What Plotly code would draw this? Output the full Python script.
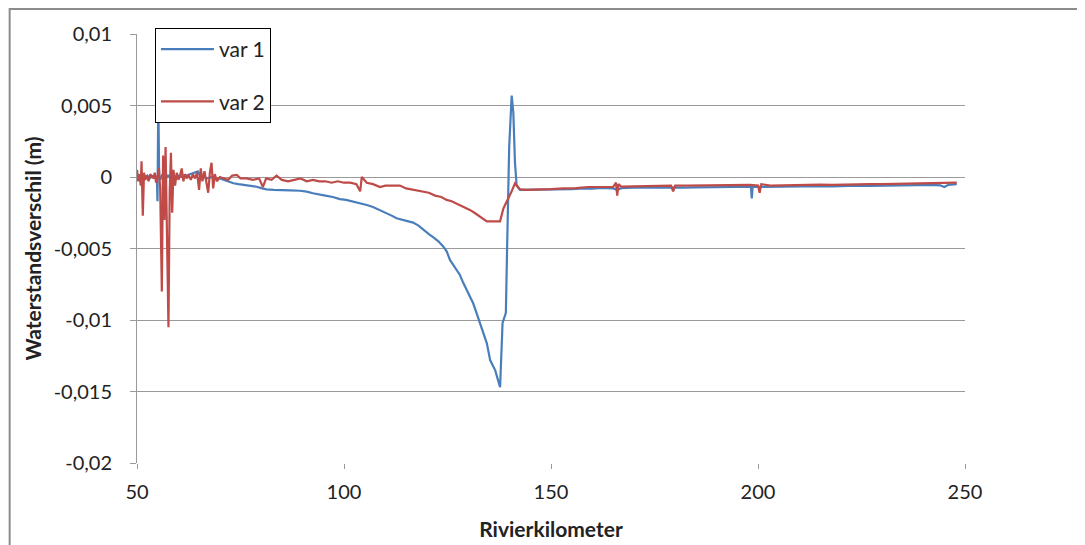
import plotly.graph_objects as go

# ---- data ----
km1 = [50.0, 50.5, 51.0, 51.5, 52.0, 52.5, 53.0, 53.5, 54.0, 54.5, 54.8, 54.95, 55.15, 55.35, 55.6,
       56.0, 56.5, 57.0, 57.5, 58.0, 58.5, 59.0, 60.0, 61.0, 62.0, 63.0, 64.0, 64.7, 65.2, 66.0,
       67.0, 68.0, 69.0, 70.0, 71.0, 72.0, 73.3, 74.5, 76.0, 77.5, 78.9, 80.0, 81.3, 83.0, 85.0,
       87.0, 89.4, 91.0, 92.5, 94.0, 95.5, 97.3, 99.0, 100.5, 102.0, 103.5, 105.5, 107.0, 108.7,
       110.0, 111.5, 112.7, 114.0, 115.5, 116.7, 118.0, 119.2, 120.5, 121.6, 122.8, 124.0, 124.8,
       125.6, 126.8, 128.0, 128.8, 129.6, 130.4, 131.2, 132.0, 132.9, 133.7, 134.5, 135.3, 136.0,
       136.5, 137.1, 137.7, 138.3, 139.1, 139.4, 139.9, 140.5, 140.9, 141.3, 141.7, 142.5, 144.0,
       146.0, 148.0, 150.0, 152.0, 155.0, 158.0, 160.0, 162.0, 165.0, 166.0, 167.0, 170.0, 173.0,
       176.0, 179.0, 182.0, 185.0, 188.0, 191.0, 194.0, 197.0, 198.3, 198.5, 198.7, 200.0, 203.0,
       206.0, 209.0, 212.0, 215.0, 218.0, 221.0, 224.0, 227.0, 230.0, 233.0, 236.0, 239.0, 242.0,
       244.0, 245.0, 246.0, 248.0]
var1 = [0.0, -0.0001, 0.0001, -0.0001, 0.0, 0.0001, -0.0001, 0.0, 0.0001, 0.0, 0.0, -0.0017, 0.0055, 0.0, -0.0002,
        0.0001, 0.0, -0.0001, 0.0001, 0.0, -0.0001, 0.0, 0.0001, 0.0, 0.0001, 0.0002, 0.0003, 0.0004, 0.0001, 0.0,
        -0.0001, 0.0, -0.0001, -0.0001, -0.0002, -0.0003, -0.00044, -0.0005, -0.00055, -0.0006, -0.00068, -0.00078, -0.00086, -0.0009, -0.0009,
        -0.00093, -0.00096, -0.00102, -0.00114, -0.0012, -0.0013, -0.0014, -0.00155, -0.0016, -0.0017, -0.0018, -0.00196, -0.0021, -0.00231,
        -0.0025, -0.0027, -0.00289, -0.003, -0.0031, -0.00319, -0.0034, -0.00371, -0.004, -0.00422, -0.0045, -0.00487, -0.0052,
        -0.0058, -0.0063, -0.00685, -0.0074, -0.0079, -0.0083, -0.00883, -0.0095, -0.01023, -0.0109, -0.01163, -0.0128, -0.0132,
        -0.0135, -0.0141, -0.0147, -0.0102, -0.0095, -0.0049, 0.0021, 0.0057, 0.0045, 0.001, -0.0006, -0.0009, -0.0009,
        -0.00088, -0.0009, -0.0009, -0.0009, -0.00085, -0.0008, -0.00082, -0.00077, -0.0008, -0.0009, -0.00078, -0.00075, -0.00076,
        -0.00074, -0.00072, -0.00075, -0.00072, -0.0007, -0.00072, -0.0007, -0.0007, -0.0007, -0.0015, -0.0007, -0.0007, -0.00068,
        -0.00066, -0.00068, -0.00065, -0.00064, -0.00066, -0.00062, -0.0006, -0.00062, -0.0006, -0.00058, -0.0006, -0.00057, -0.00055,
        -0.00058, -0.0007, -0.00055, -0.0005]

km2 = [50.0, 50.3, 50.6, 50.9, 51.1, 51.4, 51.7, 52.0, 52.4, 52.8, 53.2, 53.6, 54.0, 54.3, 54.6,
       55.0, 55.3, 55.6, 56.0, 56.3, 56.6, 56.9, 57.2, 57.6, 57.9, 58.2, 58.5, 58.8, 59.2, 59.6,
       60.0, 60.4, 60.8, 61.2, 61.6, 62.0, 62.5, 63.0, 63.5, 64.0, 64.5, 65.0, 65.4, 65.8, 66.3,
       66.8, 67.2, 67.6, 68.0, 68.4, 68.8, 69.3, 70.0, 71.0, 72.0, 73.0, 74.1, 75.0, 76.5, 78.0,
       79.5, 80.4, 81.2, 82.5, 83.7, 85.0, 86.5, 88.0, 89.5, 91.0, 92.5, 94.0, 95.5, 97.0, 98.5,
       100.0, 101.5, 103.0, 103.9, 104.3, 105.5, 107.0, 108.7, 110.0, 111.5, 113.5, 115.0, 116.7,
       117.6, 119.0, 120.5, 122.0, 123.5, 124.8, 126.0, 127.5, 129.0, 130.4, 131.5, 132.5, 133.5,
       134.5, 135.5, 136.5, 137.7, 138.5, 139.2, 139.7, 140.5, 141.3, 142.0, 142.5, 144.0, 146.0,
       148.0, 150.0, 153.0, 156.0, 159.0, 162.0, 165.0, 165.7, 166.0, 166.3, 167.0, 170.0, 173.0,
       176.0, 179.0, 179.5, 180.0, 183.0, 186.0, 189.0, 192.0, 195.0, 198.0, 200.0, 200.4, 200.8,
       203.0, 206.0, 209.0, 212.0, 215.0, 218.0, 221.0, 224.0, 227.0, 230.0, 233.0, 236.0, 239.0,
       242.0, 245.0, 248.0]
var2 = [0.0005, -0.0003, 0.0002, -0.0006, 0.0011, -0.0027, 0.0003, -0.0002, 0.0001, -0.0003, 0.0002, 0.0, -0.0001, 0.0003, -0.0004,
        0.0001, 0.0006, -0.0008, -0.008, 0.0015, -0.003, 0.0021, -0.0045, -0.0105, -0.001, 0.0017, -0.0025, 0.0005, -0.0006, 0.0003,
        -0.0002, 0.0001, 0.0006, -0.0003, 0.0002, -0.0001, 0.0001, -0.0002, 0.0002, -0.0001, 0.0003, -0.0009, 0.0006, -0.0003, 0.0004,
        -0.0005, -0.0011, 0.0003, 0.001, -0.0008, 0.0002, -0.0003, 0.0, -0.0001, -0.0002, 0.0001, 0.00014, -0.0001, -0.0001, -0.0002,
        -0.0001, -0.0007, -0.0001, -0.0002, 0.0001, -0.0002, -0.0003, -0.0002, -0.0001, -0.0003, -0.0002, -0.0003, -0.0003, -0.0004, -0.0003,
        -0.0004, -0.0004, -0.0005, -0.001, 0.0, -0.0004, -0.0005, -0.0007, -0.0006, -0.0006, -0.0006, -0.0008, -0.0009,
        -0.0009, -0.001, -0.0011, -0.0013, -0.0014, -0.0016, -0.0017, -0.0019, -0.0021, -0.0023, -0.0025, -0.0027, -0.0029,
        -0.0031, -0.0031, -0.0031, -0.0031, -0.0022, -0.0018, -0.0014, -0.001, -0.00045, -0.0007, -0.00086, -0.0009, -0.0009,
        -0.00088, -0.00085, -0.0008, -0.00078, -0.0007, -0.0007, -0.0007, -0.0004, -0.0013, -0.0005, -0.00068, -0.00065, -0.00063,
        -0.00065, -0.0006, -0.001, -0.0006, -0.0006, -0.00058, -0.0006, -0.00055, -0.00057, -0.00055, -0.0006, -0.0011, -0.0005,
        -0.0006, -0.00058, -0.00055, -0.00056, -0.00054, -0.00055, -0.00052, -0.00053, -0.0005, -0.0005, -0.00048, -0.00046, -0.00045,
        -0.00044, -0.00045, -0.0004]

x_ticks = [50, 100, 150, 200, 250]
y_ticks = [0.01, 0.005, 0.0, -0.005, -0.01, -0.015, -0.02]
y_tick_labels = ["0,01", "0,005", "0", "-0,005", "-0,01", "-0,015", "-0,02"]

FONT = "Lato"
GRID = "#9a9a9a"
TXT = "#222222"

fig = go.Figure()
fig.add_trace(go.Scatter(x=km1, y=var1, mode="lines", name="var 1",
                         line=dict(color="#4a7ebb", width=2.2), legendgroup="a"))
fig.add_trace(go.Scatter(x=km2, y=var2, mode="lines", name="var 2",
                         line=dict(color="#be4b48", width=2.2), legendgroup="b"))

fig.update_layout(
    width=1085, height=545,
    margin=dict(l=129, r=128, t=26, b=90, autoexpand=False),
    paper_bgcolor="white", plot_bgcolor="white",
    font=dict(family=FONT, size=20, color=TXT),
    showlegend=True,
    legend=dict(x=0.0217, y=1.014, xanchor="left", yanchor="top",
                bgcolor="white", bordercolor="black", borderwidth=1,
                font=dict(family=FONT, size=21, color=TXT),
                itemwidth=53,
                tracegroupgap=22, traceorder="grouped"),
    xaxis=dict(range=[50, 250], tickvals=x_ticks, ticktext=[str(v) for v in x_ticks],
               showgrid=False, zeroline=False,
               showline=False, ticks="outside", ticklen=5, tickcolor=GRID,
               ticklabelstandoff=6,
               tickfont=dict(family=FONT, size=20, color=TXT),
               title=dict(text="<b>Rivierkilometer</b>", font=dict(family=FONT, size=21), standoff=20)),
    yaxis=dict(range=[-0.02, 0.01], tickvals=y_ticks, ticktext=y_tick_labels,
               showgrid=True, gridcolor=GRID, gridwidth=1, zeroline=False,
               showline=True, linecolor=GRID, linewidth=1,
               ticks="outside", ticklen=6, tickcolor=GRID, ticklabelstandoff=14,
               tickfont=dict(family=FONT, size=20, color=TXT),
               title=dict(text="<b>Waterstandsverschil (m)</b>", font=dict(family=FONT, size=21), standoff=6)),
    shapes=[dict(type="rect", xref="paper", yref="paper", x0=-0.1538, x1=1.3, y0=-0.4, y1=1.058,
                 line=dict(color="#8c8c8c", width=2), fillcolor="rgba(0,0,0,0)", layer="below")],
)

fig.write_html("out.html")
